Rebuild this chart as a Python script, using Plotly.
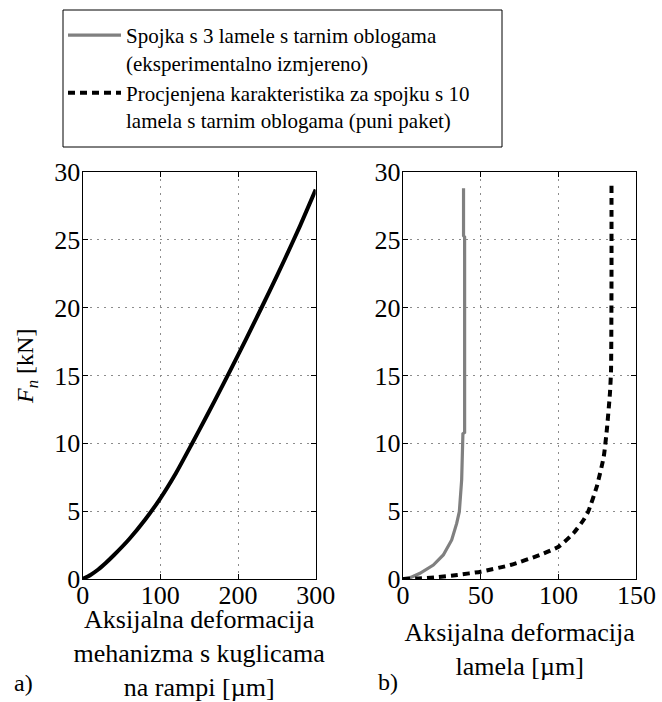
import plotly.graph_objects as go

# a) ball-ramp mechanism: axial deflection [um] vs normal force [kN]
ramp_defl_um = [0, 10, 20, 30, 40, 60, 80, 100, 120, 140, 160, 180, 200,
                220, 240, 260, 280, 300]
ramp_force_kN = [0, 0.3, 0.7, 1.2, 1.75, 2.95, 4.35, 5.95, 7.8, 9.9, 12.05, 14.25, 16.5,
                 18.8, 21.15, 23.55, 26.05, 28.7]

# b) clutch pack with 3 friction discs (measured)
disc3_defl_um = [0, 5, 10.9, 19.5, 25.9, 31.3, 34.5, 36.2, 37.7, 38.5, 39.6, 39.6, 38.9, 38.9]
disc3_force_kN = [0, 0.12, 0.42, 1.03, 1.77, 2.88, 4.1, 4.96, 7.3, 10.7, 10.8, 25.2, 25.3, 28.8]

# b) clutch pack with 10 friction discs (estimated, full pack)
disc10_defl_um = [0, 10, 20, 35, 50, 69, 88, 100, 109.5, 116, 119, 124.5, 129, 131,
                  133, 133.7, 134, 134]
disc10_force_kN = [0, 0.04, 0.12, 0.3, 0.54, 1.03, 1.77, 2.38, 3.37, 4.35, 4.96, 6.8, 9.0, 11.0,
                   13.7, 15.4, 22, 29]

name_measured = "Spojka s 3 lamele s tarnim oblogama<br>(eksperimentalno izmjereno)"
name_estimated = "Procjenjena karakteristika za spojku s 10<br>lamela s tarnim oblogama (puni paket)"

force_ticks = [0, 5, 10, 15, 20, 25, 30]
ramp_ticks = [0, 100, 200, 300]
disc_ticks = [0, 50, 100, 150]

FONT = "Liberation Serif"
W, H = 662, 702


def px_x(p):
    return p / W


def px_y(p):
    return 1 - p / H


fig = go.Figure()

fig.add_trace(go.Scatter(
    x=ramp_defl_um, y=ramp_force_kN, mode="lines", showlegend=False,
    line=dict(color="black", width=4, shape="spline", smoothing=0.6),
    xaxis="x", yaxis="y"))

fig.add_trace(go.Scatter(
    x=disc3_defl_um, y=disc3_force_kN, mode="lines", name=name_measured,
    line=dict(color="#808080", width=3.2),
    xaxis="x2", yaxis="y2"))

fig.add_trace(go.Scatter(
    x=disc10_defl_um, y=disc10_force_kN, mode="lines", name=name_estimated,
    line=dict(color="black", width=4, dash="7px,5px", shape="spline", smoothing=0.5),
    xaxis="x2", yaxis="y2"))

axis_common = dict(
    showline=True, linecolor="black", linewidth=1.4, mirror="ticks",
    ticks="inside", ticklen=5, tickcolor="black", tickwidth=1,
    showgrid=True, gridcolor="#8c8c8c", gridwidth=1, griddash="2px,5px",
    zeroline=False, tickfont=dict(family=FONT, size=26, color="black"),
)

y_dom = [px_y(579), px_y(172)]
x_title_font = dict(family=FONT, size=26, color="black")

fig.update_layout(
    width=W, height=H,
    margin=dict(l=0, r=0, t=0, b=0, autoexpand=False),
    paper_bgcolor="white", plot_bgcolor="white",
    font=dict(family=FONT, color="black"),
    xaxis=dict(axis_common, domain=[px_x(82.7), px_x(315.7)], range=[0, 300],
               tickvals=ramp_ticks, anchor="y", ticklabelstandoff=-7,
               title=dict(text="Aksijalna deformacija<br>mehanizma s kuglicama<br>na rampi [µm]",
                          font=x_title_font, standoff=13)),
    yaxis=dict(axis_common, domain=y_dom, range=[0, 30], tickvals=force_ticks, anchor="x",
               ticklabelstandoff=-4),
    xaxis2=dict(axis_common, domain=[px_x(403), px_x(636.4)], range=[0, 150],
                tickvals=disc_ticks, anchor="y2", ticklabelstandoff=-7,
                title=dict(text="Aksijalna deformacija<br>lamela [µm]",
                           font=x_title_font, standoff=13)),
    yaxis2=dict(axis_common, domain=y_dom, range=[0, 30], tickvals=force_ticks, anchor="x2",
                ticklabelstandoff=-4),
    legend=dict(
        x=px_x(63), y=px_y(15), xanchor="left", yanchor="top",
        bgcolor="rgba(0,0,0,0)", borderwidth=0,
        font=dict(family=FONT, size=21, color="black"), valign="top",
        itemwidth=53, tracegroupgap=4,
    ),
    shapes=[
        dict(type="rect", xref="paper", yref="paper",
             x0=px_x(63), x1=px_x(502), y0=px_y(147), y1=px_y(10),
             line=dict(color="black", width=1), fillcolor="white", layer="below"),
    ],
    annotations=[
        dict(text="<i>F</i><sub><i>n</i></sub> [kN]", textangle=-90,
             x=px_x(27), y=px_y(367), xref="paper", yref="paper",
             xanchor="center", yanchor="middle", showarrow=False,
             font=dict(size=24)),
        dict(text="a)", x=px_x(12), y=px_y(683), xref="paper", yref="paper",
             xanchor="left", yanchor="middle", showarrow=False, font=dict(size=24)),
        dict(text="b)", x=px_x(376), y=px_y(682), xref="paper", yref="paper",
             xanchor="left", yanchor="middle", showarrow=False, font=dict(size=24)),
    ],
)

fig.write_html("out.html")
